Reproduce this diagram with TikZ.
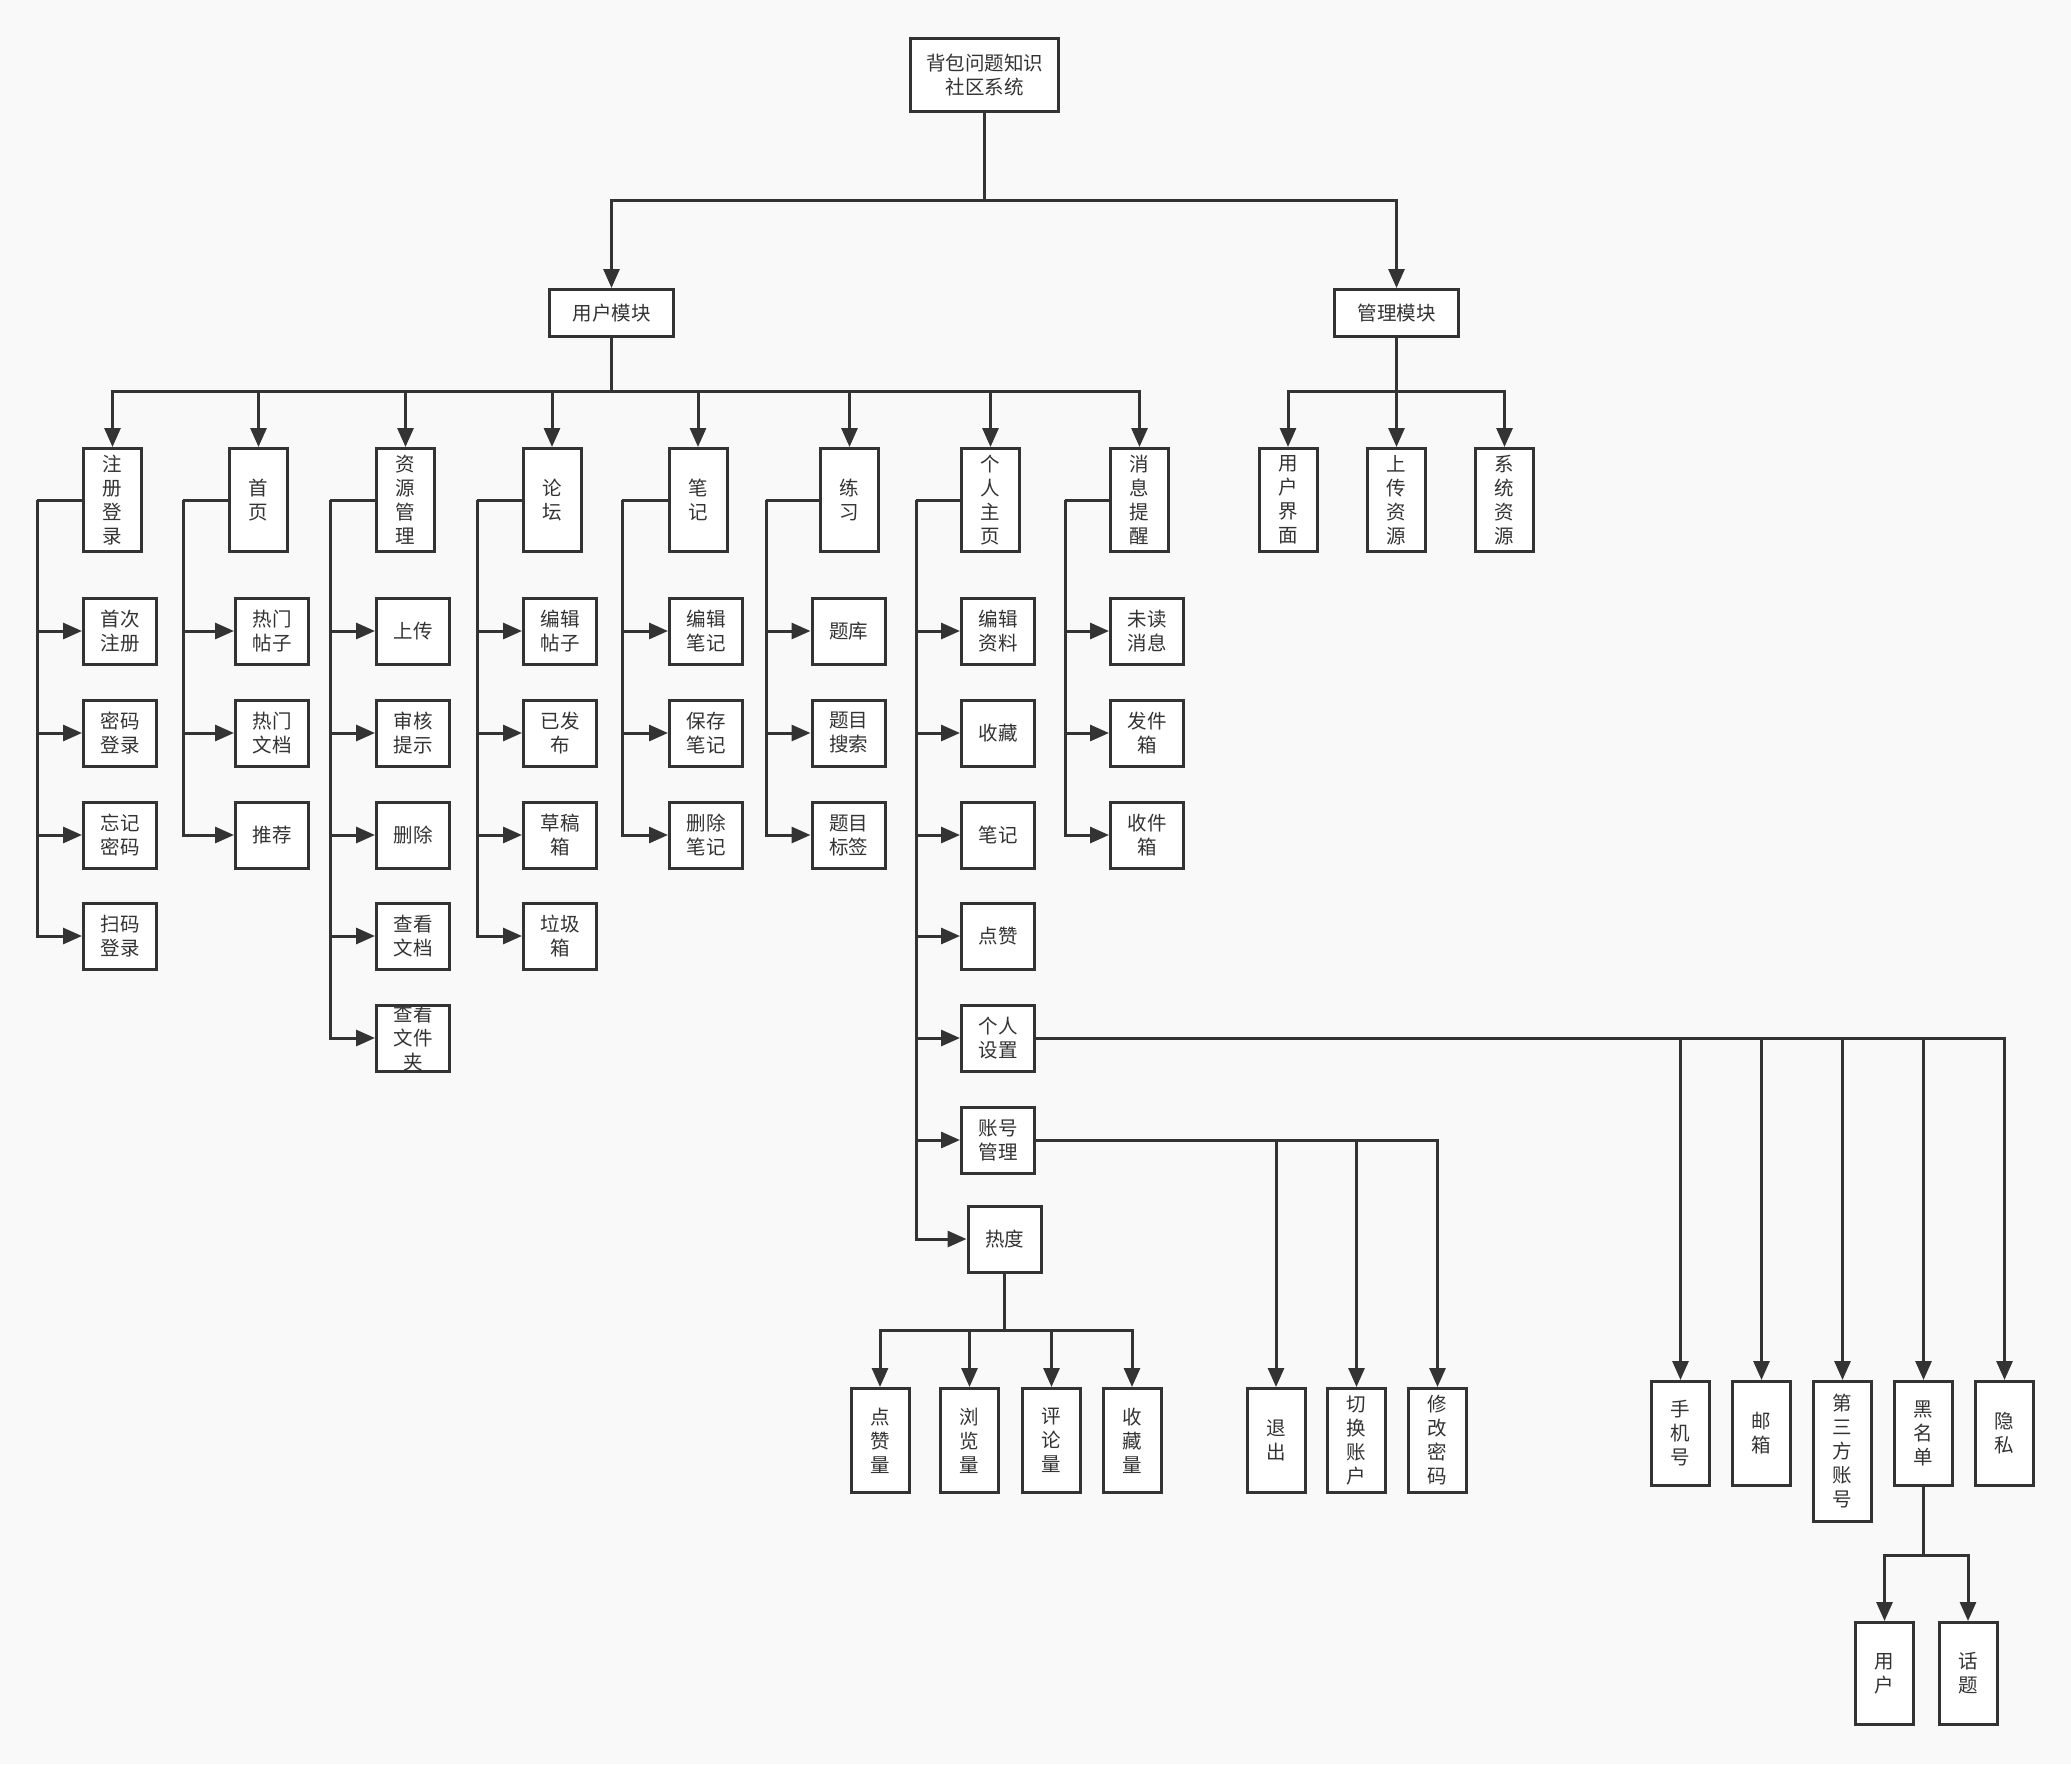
\documentclass[tikz,border=0pt]{standalone}
\usepackage{fontspec}
\setmainfont{Noto Sans CJK SC}
\usetikzlibrary{arrows.meta}
\definecolor{ink}{HTML}{333333}
\definecolor{bg}{HTML}{F9F9F9}
\begin{document}
\begin{tikzpicture}[x=1pt,y=-1pt,
  box/.style={draw=ink, line width=3pt, fill=white, inner sep=0pt, text=ink, align=center, font=\fontsize{19.5}{24}\selectfont},
  cbox/.style={box, minimum width=73pt, minimum height=66pt},
  vbox/.style={box, minimum width=58pt, minimum height=103pt},
  bbox/.style={box, minimum width=58pt, minimum height=104pt},
  lbl/.style={inner sep=0pt, text=ink, align=center, font=\fontsize{19.5}{24}\selectfont},
  arr/.style={draw=ink, line width=3pt, -{Triangle[length=19pt,width=16pt]}},
  ln/.style={draw=ink, line width=3pt},
]
\fill[bg] (0,0) rectangle (2071,1764);

% top
\node[box, minimum width=148pt, minimum height=73pt] (root) at (984.5,75) {背包问题知识\\社区系统};
\node[box, minimum width=124pt, minimum height=47pt] (um) at (611.5,313) {用户模块};
\node[box, minimum width=124pt, minimum height=47pt] (mm) at (1396.5,313) {管理模块};
\draw[arr] (root.south) -- ++(0,87) -| (um.north);
\draw[arr] (root.south) -- ++(0,87) -| (mm.north);

% level 2
\node[vbox] (p1) at (112.5,500) {注\\册\\登\\录};
\node[vbox] (p2) at (258.5,500) {首\\页};
\node[vbox] (p3) at (405.5,500) {资\\源\\管\\理};
\node[vbox] (p4) at (552,500) {论\\坛};
\node[vbox] (p5) at (698,500) {笔\\记};
\node[vbox] (p6) at (849.5,500) {练\\习};
\node[vbox] (p7) at (990.5,500) {个\\人\\主\\页};
\node[vbox] (p8) at (1139.5,500) {消\\息\\提\\醒};
\foreach \n in {p1,p2,p3,p4,p5,p6,p7,p8}
  \draw[arr] (um.south) -- ++(0,53) -| (\n.north);

\node[vbox] (m1) at (1288,500) {用\\户\\界\\面};
\node[vbox] (m2) at (1396.5,500) {上\\传\\资\\源};
\node[vbox] (m3) at (1504.5,500) {系\\统\\资\\源};
\foreach \n in {m1,m2,m3}
  \draw[arr] (mm.south) -- ++(0,53) -| (\n.north);

% column 1
\node[cbox] (c11) at (120,631) {首次\\注册};
\node[cbox] (c12) at (120,733) {密码\\登录};
\node[cbox] (c13) at (120,835) {忘记\\密码};
\node[cbox] (c14) at (120,936) {扫码\\登录};
\coordinate (b1) at (37,500);
\draw[ln] (p1.west) -- (b1);
\foreach \n in {c11,c12,c13,c14} \draw[arr] (b1) |- (\n.west);

% column 2
\node[cbox] (c21) at (272,631) {热门\\帖子};
\node[cbox] (c22) at (272,733) {热门\\文档};
\node[cbox] (c23) at (272,835) {推荐};
\coordinate (b2) at (183,500);
\draw[ln] (p2.west) -- (b2);
\foreach \n in {c21,c22,c23} \draw[arr] (b2) |- (\n.west);

% column 3
\node[cbox] (c31) at (413,631) {上传};
\node[cbox] (c32) at (413,733) {审核\\提示};
\node[cbox] (c33) at (413,835) {删除};
\node[cbox] (c34) at (413,936) {查看\\文档};
\node[cbox] (c35) at (413,1038) {};
\node[lbl] (c35t) at (c35.center) {查看\\文件\\夹};
\coordinate (b3) at (330,500);
\draw[ln] (p3.west) -- (b3);
\foreach \n in {c31,c32,c33,c34,c35} \draw[arr] (b3) |- (\n.west);

% column 4
\node[cbox] (c41) at (560,631) {编辑\\帖子};
\node[cbox] (c42) at (560,733) {已发\\布};
\node[cbox] (c43) at (560,835) {草稿\\箱};
\node[cbox] (c44) at (560,936) {垃圾\\箱};
\coordinate (b4) at (477,500);
\draw[ln] (p4.west) -- (b4);
\foreach \n in {c41,c42,c43,c44} \draw[arr] (b4) |- (\n.west);

% column 5
\node[cbox] (c51) at (706,631) {编辑\\笔记};
\node[cbox] (c52) at (706,733) {保存\\笔记};
\node[cbox] (c53) at (706,835) {删除\\笔记};
\coordinate (b5) at (622,500);
\draw[ln] (p5.west) -- (b5);
\foreach \n in {c51,c52,c53} \draw[arr] (b5) |- (\n.west);

% column 6
\node[cbox] (c61) at (848.5,631) {题库};
\node[cbox] (c62) at (848.5,733) {题目\\搜索};
\node[cbox] (c63) at (848.5,835) {题目\\标签};
\coordinate (b6) at (766,500);
\draw[ln] (p6.west) -- (b6);
\foreach \n in {c61,c62,c63} \draw[arr] (b6) |- (\n.west);

% column 7
\node[cbox] (c71) at (998,631) {编辑\\资料};
\node[cbox] (c72) at (998,733) {收藏};
\node[cbox] (c73) at (998,835) {笔记};
\node[cbox] (c74) at (998,936) {点赞};
\node[cbox] (set) at (998,1038) {个人\\设置};
\node[cbox] (acct) at (998,1140) {账号\\管理};
\node[cbox] (heat) at (1004.5,1239) {热度};
\coordinate (b7) at (916,500);
\draw[ln] (p7.west) -- (b7);
\foreach \n in {c71,c72,c73,c74,set,acct,heat} \draw[arr] (b7) |- (\n.west);

% column 8
\node[cbox] (c81) at (1147,631) {未读\\消息};
\node[cbox] (c82) at (1147,733) {发件\\箱};
\node[cbox] (c83) at (1147,835) {收件\\箱};
\coordinate (b8) at (1065,500);
\draw[ln] (p8.west) -- (b8);
\foreach \n in {c81,c82,c83} \draw[arr] (b8) |- (\n.west);

% heat children
\node[bbox] (h1) at (880,1440.5) {点\\赞\\量};
\node[bbox] (h2) at (969.5,1440.5) {浏\\览\\量};
\node[bbox] (h3) at (1051.5,1440.5) {评\\论\\量};
\node[bbox] (h4) at (1132,1440.5) {收\\藏\\量};
\foreach \n in {h1,h2,h3,h4} \draw[arr] (heat.south) -- ++(0,57) -| (\n.north);

% account children
\node[bbox] (a1) at (1276,1440.5) {退\\出};
\node[bbox] (a2) at (1356.5,1440.5) {切\\换\\账\\户};
\node[bbox] (a3) at (1437.5,1440.5) {修\\改\\密\\码};
\foreach \n in {a1,a2,a3} \draw[arr] (acct.east) -| (\n.north);

% settings children
\node[bbox] (s1) at (1680.5,1433.5) {手\\机\\号};
\node[bbox] (s2) at (1761.5,1433.5) {邮\\箱};
\node[box, minimum width=58pt, minimum height=140pt] (s3) at (1842.5,1451.5) {第\\三\\方\\账\\号};
\node[bbox] (s4) at (1923.5,1433.5) {黑\\名\\单};
\node[bbox] (s5) at (2004.5,1433.5) {隐\\私};
\foreach \n in {s1,s2,s3,s4,s5} \draw[arr] (set.east) -| (\n.north);

% blacklist children
\node[box, minimum width=58pt, minimum height=102pt] (k1) at (1884.5,1673.5) {用\\户};
\node[box, minimum width=58pt, minimum height=102pt] (k2) at (1968,1673.5) {话\\题};
\foreach \n in {k1,k2} \draw[arr] (s4.south) -- ++(0,68) -| (\n.north);
\end{tikzpicture}
\end{document}
